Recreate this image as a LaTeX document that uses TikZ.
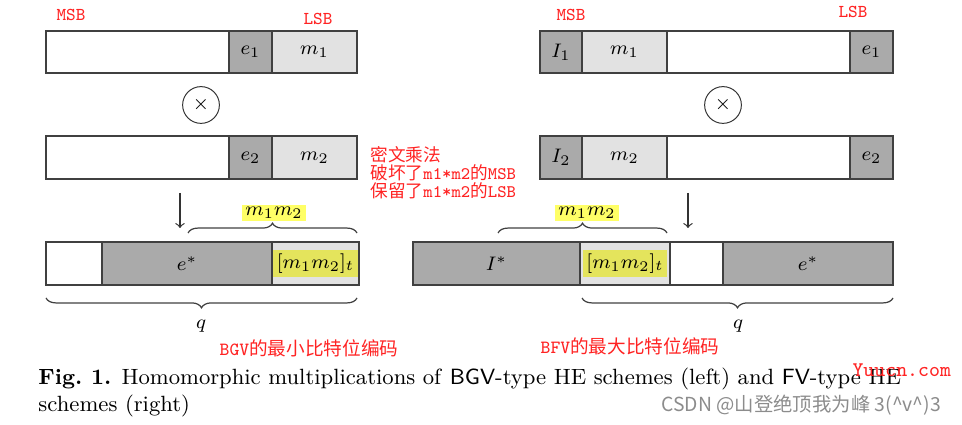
\documentclass[tikz,border=0pt]{standalone}
\usepackage{amsmath}
\usepackage{amssymb}
\usepackage{fontspec}
\usepackage{tikz}
\usetikzlibrary{decorations.pathreplacing}

\newfontfamily\cjk{Noto Sans CJK SC}
\definecolor{gris}{RGB}{170,170,170}
\definecolor{grisclaro}{RGB}{226,226,226}
\definecolor{marca}{RGB}{255,255,102}
\definecolor{marcagris}{RGB}{228,228,92}
\definecolor{rojo}{RGB}{255,35,35}
\definecolor{agua}{RGB}{140,140,140}

\tikzset{
  celda/.style={draw=black!75, line width=0.6pt},
  rot/.style={text=rojo, font=\fontsize{7.4}{7.4}\selectfont\ttfamily},
  llave/.style={decorate, decoration={brace,amplitude=4pt}, draw=black!75, line width=0.5pt},
  llaveabajo/.style={decorate, decoration={brace,amplitude=4pt,mirror}, draw=black!75, line width=0.5pt},
  resaltado/.style={inner xsep=1.5pt, inner ysep=1pt}
}

% celda: nombre, x1, x2, y1, y2, relleno, texto
\newcommand{\celda}[7]{\draw[celda,fill=#6] (#2,#4) rectangle (#3,#5) node[midway] (#1) {#7};}

\begin{document}
\begin{tikzpicture}[x=0.408pt, y=-0.408pt, font=\footnotesize]
            \useasboundingbox (0,0) rectangle (962,425);

            % BGV: textos cifrados
            \node[rot] (msbbgv) at (71,15) {MSB};
            \node[rot] (lsbbgv) at (318,19) {LSB};
            \celda{vacio1}{46}{229}{31}{73}{white}{}
            \celda{ea1}{229}{272}{31}{73}{gris}{$e_1$}
            \celda{ma1}{272}{357}{31}{73}{grisclaro}{$m_1$}
            \node[draw=black!80, line width=0.4pt, circle, minimum size=15pt, inner sep=0] (porbgv) at (201,105) {$\times$};
            \celda{vacio2}{46}{229}{136}{179}{white}{}
            \celda{ea2}{229}{272}{136}{179}{gris}{$e_2$}
            \celda{ma2}{272}{357}{136}{179}{grisclaro}{$m_2$}

            % BGV: producto
            \coordinate (flbgvA) at (180,193);
            \coordinate (flbgvB) at (180,228);
            \draw[->, black!80, line width=0.5pt] (flbgvA) -- (flbgvB);
            \draw[llave] (188,233) -- (357,233);
            \node[fill=marca, resaltado] (mmbgv) at (274,213) {$m_1m_2$};
            \celda{vacio3}{46}{102}{242}{285}{white}{}
            \celda{eestbgv}{102}{272}{242}{285}{gris}{$e^*$}
            \celda{mtbgv}{272}{359}{242}{285}{grisclaro}{}
            \node[fill=marcagris, resaltado, inner ysep=1.5pt] (mmtbgv) at (mtbgv) {$[m_1m_2]_t$};
            \draw[llaveabajo] (46,298) -- (357,298);
            \node (qbgv) at (201,326) {$q$};
            \node[text=rojo, font=\fontsize{7.6}{7.6}\selectfont\cjk] (notabgv) at (309,348) {{\ttfamily BGV}的最小比特位编码};

            % Nota central
            \node[text=rojo, anchor=west, align=left, inner xsep=0, font=\fontsize{7.2}{7.35}\selectfont\cjk] (nota) at (370,173)
                {密文乘法\\破坏了{\ttfamily m1*m2}的{\ttfamily MSB}\\保留了{\ttfamily m1*m2}的{\ttfamily LSB}};

            % BFV: textos cifrados
            \node[rot] (msbbfv) at (571,15) {MSB};
            \node[rot] (lsbbfv) at (853,12) {LSB};
            \celda{ib1}{540}{582}{31}{73}{gris}{$I_1$}
            \celda{mb1}{582}{667}{31}{73}{grisclaro}{$m_1$}
            \celda{vacio4}{667}{850}{31}{73}{white}{}
            \celda{eb1}{850}{893}{31}{73}{gris}{$e_1$}
            \node[draw=black!80, line width=0.4pt, circle, minimum size=15pt, inner sep=0] (porbfv) at (723,105) {$\times$};
            \celda{ib2}{540}{582}{136}{179}{gris}{$I_2$}
            \celda{mb2}{582}{667}{136}{179}{grisclaro}{$m_2$}
            \celda{vacio5}{667}{850}{136}{179}{white}{}
            \celda{eb2}{850}{893}{136}{179}{gris}{$e_2$}

            % BFV: producto
            \coordinate (flbfvA) at (688,193);
            \coordinate (flbfvB) at (688,228);
            \draw[->, black!80, line width=0.5pt] (flbfvA) -- (flbfvB);
            \draw[llave] (498,233) -- (667,233);
            \node[fill=marca, resaltado] (mmbfv) at (587,213) {$m_1m_2$};
            \celda{iestbfv}{413}{580}{242}{285}{gris}{$I^*$}
            \celda{mtbfv}{580}{670}{242}{285}{grisclaro}{}
            \node[fill=marcagris, resaltado, inner ysep=1.5pt] (mmtbfv) at (mtbfv) {$[m_1m_2]_t$};
            \celda{vacio6}{670}{723}{242}{285}{white}{}
            \celda{eestbfv}{723}{893}{242}{285}{gris}{$e^*$}
            \draw[llaveabajo] (582,298) -- (893,298);
            \node (qbfv) at (738,326) {$q$};
            \node[text=rojo, font=\fontsize{7.6}{7.6}\selectfont\cjk] (notabfv) at (630,346) {{\ttfamily BFV}的最大比特位编码};

            % Leyenda
            \node[anchor=base west, inner sep=0, font=\fontsize{9}{11}\selectfont] (leyenda1) at (38,385)
                {\textbf{Fig.~1.} Homomorphic multiplications of \textsf{BGV}-type HE schemes (left) and \textsf{FV}-type HE};
            \node[anchor=base west, inner sep=0, font=\fontsize{9}{11}\selectfont] (leyenda2) at (38,412) {schemes (right)};

            % Marcas de agua
            \node[anchor=west, inner sep=0, text=rojo, font=\fontsize{8.5}{8.5}\selectfont\ttfamily] (web) at (852,370) {Yuucn.com};
            \node[anchor=west, inner sep=0, text=agua, font=\fontsize{7.9}{7.9}\selectfont\cjk] (csdn) at (661,405) {CSDN @山登绝顶我为峰 3(\textasciicircum v\textasciicircum)3};
        \end{tikzpicture}
\end{document}
